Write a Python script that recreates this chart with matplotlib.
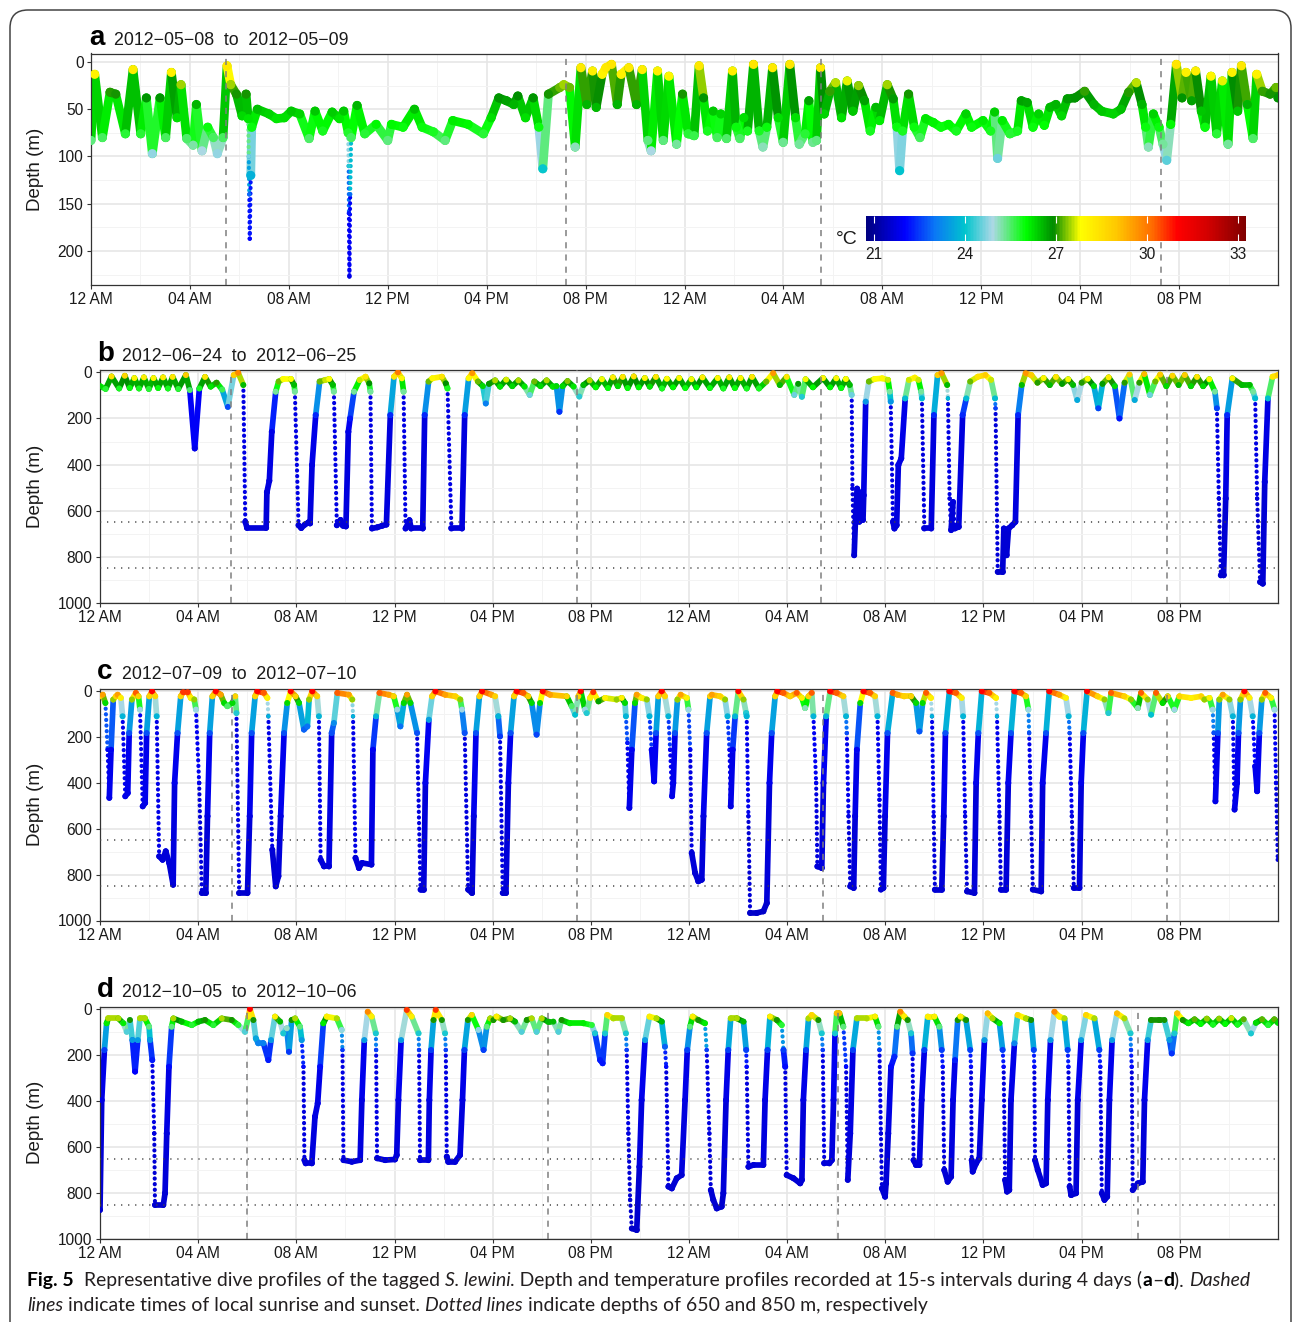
import numpy as np
import matplotlib
matplotlib.use("Agg")
import matplotlib.pyplot as plt
from matplotlib.collections import LineCollection
from matplotlib.colors import LinearSegmentedColormap, Normalize
from matplotlib.cm import ScalarMappable
from matplotlib.patches import FancyBboxPatch
from matplotlib.transforms import IdentityTransform

plt.rcParams['font.family'] = ['Liberation Sans', 'DejaVu Sans']

W, H = 1293, 1322

# ---- data: (hour since start, depth in m) ----
a_track = [
    (0.00, 83), (0.15, 13), (0.46, 80), (0.77, 32), (1.00, 34), (1.39, 76), (1.70, 8), (2.01, 76),
    (2.24, 38), (2.48, 97), (2.79, 38), (3.02, 80), (3.25, 11), (3.48, 59), (3.64, 24), (3.87, 81),
    (4.13, 88), (4.26, 45), (4.49, 94), (4.72, 69), (4.95, 80), (5.11, 97), (5.34, 80), (5.50, 4),
    (5.65, 24), (5.88, 34), (6.11, 57), (6.27, 34), (6.36, 60), (6.38, 100), (6.40, 140), (6.42, 187),
    (6.46, 120), (6.50, 69), (6.73, 50), (7.20, 55), (7.50, 60), (7.82, 59), (8.10, 52), (8.44, 55),
    (8.82, 81), (9.06, 52), (9.37, 73), (9.75, 53), (10.05, 60), (10.22, 52), (10.40, 75), (10.42, 110),
    (10.43, 160), (10.45, 227), (10.48, 140), (10.52, 80), (10.76, 46), (11.07, 76), (11.53, 66),
    (12.00, 83), (12.15, 66), (12.62, 69), (13.08, 50), (13.39, 69), (13.85, 74), (14.32, 83),
    (14.63, 62), (15.25, 66), (15.87, 76), (16.18, 59), (16.49, 38), (16.80, 41), (17.10, 45),
    (17.26, 36), (17.57, 59), (17.88, 38), (18.11, 69), (18.27, 113), (18.50, 34), (18.96, 27),
    (19.12, 24), (19.35, 27), (19.58, 90), (19.81, 6), (20.05, 45), (20.28, 9.5), (20.43, 48),
    (20.67, 13), (20.82, 6), (21.05, 2.5), (21.28, 45), (21.44, 13), (21.75, 6), (22.06, 45),
    (22.29, 8), (22.52, 83), (22.65, 94), (22.91, 9.5), (23.14, 83), (23.37, 15), (23.68, 87),
    (23.92, 34), (24.15, 76), (24.39, 78), (24.59, 4), (24.77, 38), (24.93, 73), (25.16, 52),
    (25.32, 80), (25.47, 55), (25.70, 81), (25.94, 9.5), (26.09, 69), (26.24, 81), (26.40, 59),
    (26.55, 73), (26.79, 2.5), (27.02, 73), (27.17, 90), (27.33, 69), (27.56, 6), (27.79, 59),
    (27.99, 85), (28.26, 2.5), (28.49, 59), (28.64, 87), (28.88, 76), (29.03, 41), (29.19, 85),
    (29.34, 83), (29.50, 6), (29.65, 55), (29.88, 31), (30.11, 22), (30.35, 59), (30.58, 20),
    (30.81, 52), (31.04, 25), (31.28, 41), (31.51, 73), (31.74, 48), (31.89, 62), (32.20, 24),
    (32.44, 39), (32.59, 69), (32.70, 115), (32.82, 73), (33.06, 34), (33.29, 69), (33.52, 80),
    (33.75, 60), (34.06, 64), (34.37, 69), (34.68, 66), (34.99, 73), (35.38, 55), (35.61, 69),
    (36.07, 62), (36.38, 73), (36.54, 53), (36.66, 102), (36.85, 62), (37.16, 76), (37.47, 73),
    (37.62, 41), (37.86, 43), (38.09, 69), (38.32, 55), (38.55, 67), (38.78, 48), (39.02, 45),
    (39.25, 57), (39.48, 39), (39.79, 38), (40.18, 31), (40.56, 45), (40.87, 52), (41.34, 55),
    (41.65, 50), (41.96, 32), (42.27, 22), (42.50, 45), (42.65, 69), (42.76, 90), (42.96, 55),
    (43.19, 69), (43.35, 87), (43.50, 104), (43.66, 66), (43.89, 2.5), (44.12, 38), (44.28, 11),
    (44.51, 41), (44.67, 9.5), (44.90, 52), (45.05, 69), (45.29, 15), (45.52, 76), (45.75, 20),
    (45.98, 87), (46.14, 11), (46.37, 52), (46.52, 4), (46.76, 45), (46.99, 81), (47.14, 13),
    (47.37, 31), (47.68, 34), (47.92, 27), (48.00, 38),
]

b_track = [
    (0.00, 60), (0.23, 72), (0.47, 18), (0.78, 70), (1.01, 15), (1.21, 68), (1.40, 25), (1.59, 70),
    (1.79, 22), (1.99, 72), (2.18, 25), (2.37, 68), (2.57, 22), (2.77, 70), (2.96, 20), (3.19, 72),
    (3.50, 12), (3.66, 77), (3.86, 330), (4.05, 70), (4.28, 20), (4.51, 62), (4.75, 45), (4.98, 75),
    (5.21, 150), (5.45, 12), (5.63, 2), (5.84, 55), (5.92, 648), (5.99, 674), (6.77, 674), (6.80, 520),
    (6.90, 470), (7.00, 258), (7.16, 84), (7.28, 40), (7.47, 29), (7.78, 29), (7.91, 55), (7.94, 84),
    (8.09, 663), (8.20, 675), (8.35, 660), (8.50, 650), (8.56, 655), (8.64, 402), (8.79, 185),
    (8.95, 40), (9.18, 33), (9.34, 29), (9.49, 55), (9.53, 84), (9.65, 663), (9.80, 640), (9.90, 665),
    (10.02, 668), (10.12, 258), (10.19, 200), (10.35, 84), (10.58, 33), (10.82, 19), (10.97, 48),
    (11.02, 84), (11.08, 677), (11.30, 672), (11.50, 665), (11.67, 660), (11.83, 185), (11.98, 19),
    (12.14, 0), (12.30, 26), (12.37, 84), (12.45, 677), (12.61, 641), (12.68, 677), (13.15, 677),
    (13.23, 185), (13.39, 40), (13.54, 26), (13.93, 19), (14.09, 48), (14.16, 70), (14.32, 677),
    (14.75, 677), (14.86, 185), (15.02, 26), (15.17, 4), (15.40, 40), (15.60, 60), (15.72, 135),
    (15.85, 50), (16.10, 35), (16.30, 62), (16.55, 32), (16.80, 60), (17.05, 35), (17.30, 62),
    (17.51, 98), (17.70, 40), (17.95, 60), (18.20, 35), (18.45, 62), (18.60, 60), (18.72, 171),
    (18.85, 60), (19.05, 38), (19.30, 62), (19.53, 105), (19.70, 55), (19.95, 35), (20.20, 65),
    (20.45, 30), (20.70, 68), (20.90, 22), (21.10, 60), (21.30, 20), (21.50, 68), (21.75, 18),
    (21.95, 65), (22.20, 25), (22.40, 62), (22.65, 20), (22.90, 70), (23.10, 28), (23.35, 65),
    (23.60, 25), (23.85, 68), (24.10, 30), (24.30, 65), (24.55, 22), (24.85, 68), (25.17, 25),
    (25.40, 70), (25.64, 22), (25.87, 68), (26.10, 25), (26.35, 70), (26.57, 20), (26.85, 70),
    (27.15, 40), (27.43, 4), (27.70, 55), (27.98, 20), (28.29, 98), (28.45, 50), (28.60, 106),
    (28.75, 30), (29.05, 65), (29.46, 25), (29.75, 65), (30.00, 26), (30.20, 68), (30.39, 29),
    (30.55, 55), (30.63, 98), (30.66, 504), (30.73, 793), (30.78, 648), (30.85, 504), (30.94, 648),
    (31.02, 520), (31.09, 640), (31.12, 533), (31.20, 127), (31.33, 40), (31.56, 29), (31.87, 26),
    (32.11, 33), (32.18, 84), (32.22, 127), (32.31, 648), (32.37, 677), (32.46, 663), (32.53, 402),
    (32.65, 373), (32.81, 113), (32.96, 33), (33.20, 23), (33.35, 33), (33.46, 84), (33.49, 113),
    (33.59, 677), (33.87, 677), (33.98, 185), (34.13, 12), (34.29, 4), (34.52, 55), (34.55, 113),
    (34.62, 547), (34.68, 684), (34.76, 562), (34.83, 677), (34.99, 670), (35.15, 185), (35.30, 113),
    (35.46, 40), (35.77, 19), (36.08, 12), (36.31, 33), (36.47, 113), (36.49, 156), (36.58, 865),
    (36.78, 865), (36.83, 677), (36.94, 793), (37.02, 677), (37.17, 663), (37.30, 648), (37.41, 185),
    (37.56, 55), (37.72, 4), (37.95, 12), (38.20, 45), (38.45, 25), (38.70, 55), (38.95, 20),
    (39.20, 50), (39.45, 30), (39.65, 55), (39.82, 120), (40.00, 45), (40.25, 28), (40.50, 60),
    (40.68, 156), (40.85, 50), (41.10, 22), (41.35, 60), (41.54, 200), (41.75, 45), (41.95, 10),
    (42.16, 120), (42.35, 45), (42.55, 8), (42.78, 98), (43.00, 40), (43.20, 10), (43.45, 60),
    (43.70, 15), (43.95, 55), (44.20, 12), (44.45, 60), (44.70, 20), (44.95, 60), (45.20, 30),
    (45.43, 84), (45.51, 156), (45.59, 547), (45.67, 880), (45.78, 880), (45.87, 547), (45.93, 185),
    (46.14, 26), (46.53, 55), (46.84, 55), (46.99, 84), (47.07, 113), (47.15, 547), (47.27, 909),
    (47.38, 916), (47.46, 475), (47.59, 113), (47.78, 19), (48.00, 12),
]

c_track = [
    (0.00, 22), (0.11, 15), (0.22, 51), (0.31, 255), (0.38, 465), (0.45, 255), (0.54, 36), (0.65, 22),
    (0.72, 15), (0.85, 29), (0.92, 109), (1.03, 458), (1.13, 444), (1.19, 182), (1.30, 36), (1.46, 7),
    (1.57, 22), (1.63, 80), (1.74, 502), (1.84, 487), (1.90, 182), (2.01, 22), (2.12, 0), (2.25, 22),
    (2.31, 109), (2.41, 720), (2.55, 735), (2.68, 698), (2.82, 749), (2.98, 844), (3.04, 400),
    (3.16, 182), (3.29, 22), (3.39, 4), (3.57, 4), (3.70, 29), (3.84, 36), (3.91, 80), (4.04, 400),
    (4.15, 880), (4.31, 880), (4.38, 545), (4.47, 182), (4.58, 22), (4.72, 0), (4.92, 15), (5.06, 51),
    (5.19, 65), (5.40, 51), (5.51, 22), (5.56, 95), (5.67, 880), (6.01, 880), (6.10, 545), (6.18, 182),
    (6.32, 22), (6.41, 0), (6.68, 7), (6.82, 29), (6.86, 109), (7.02, 691), (7.16, 851), (7.27, 807),
    (7.36, 545), (7.50, 182), (7.63, 51), (7.77, 0), (7.97, 22), (8.11, 51), (8.31, 167), (8.45, 153),
    (8.52, 36), (8.65, 0), (8.85, 22), (8.92, 109), (8.99, 735), (9.13, 764), (9.33, 764), (9.44, 182),
    (9.53, 138), (9.67, 7), (10.14, 15), (10.28, 36), (10.31, 109), (10.41, 727), (10.55, 771),
    (10.68, 749), (11.06, 756), (11.12, 255), (11.25, 109), (11.39, 7), (11.77, 15), (11.97, 22),
    (12.11, 80), (12.24, 153), (12.38, 51), (12.51, 15), (12.65, 51), (12.92, 182), (13.06, 865),
    (13.19, 865), (13.26, 400), (13.40, 124), (13.53, 22), (13.67, 0), (14.07, 15), (14.48, 22),
    (14.68, 36), (14.75, 80), (14.86, 182), (15.00, 865), (15.16, 880), (15.23, 545), (15.32, 182),
    (15.46, 22), (15.57, 0), (15.95, 15), (16.10, 22), (16.23, 109), (16.30, 197), (16.41, 880),
    (16.54, 880), (16.64, 400), (16.73, 182), (16.87, 22), (16.98, 0), (17.25, 7), (17.45, 22),
    (17.59, 51), (17.79, 189), (17.93, 51), (18.04, 0), (18.34, 15), (19.02, 22), (19.22, 65),
    (19.36, 102), (19.49, 22), (19.59, 0), (19.76, 80), (19.83, 95), (19.97, 29), (20.10, 4),
    (20.31, 44), (20.58, 29), (21.05, 36), (21.26, 29), (21.39, 51), (21.43, 109), (21.49, 225),
    (21.57, 509), (21.67, 255), (21.80, 51), (21.87, 15), (22.07, 29), (22.28, 36), (22.39, 109),
    (22.48, 255), (22.58, 393), (22.66, 182), (22.75, 22), (22.89, 0), (23.02, 22), (23.16, 109),
    (23.23, 255), (23.31, 458), (23.36, 400), (23.43, 182), (23.53, 36), (23.66, 15), (23.91, 29),
    (23.98, 80), (24.05, 255), (24.11, 705), (24.25, 793), (24.38, 829), (24.52, 822), (24.59, 545),
    (24.72, 182), (24.86, 22), (24.93, 15), (25.27, 22), (25.47, 36), (25.57, 109), (25.65, 255),
    (25.70, 502), (25.78, 255), (25.88, 109), (26.01, 0), (26.22, 36), (26.33, 95), (26.35, 109),
    (26.42, 545), (26.49, 967), (26.76, 967), (27.03, 960), (27.17, 924), (27.28, 400), (27.37, 182),
    (27.51, 22), (27.60, 0), (27.85, 7), (28.12, 22), (28.39, 7), (28.60, 29), (28.73, 73),
    (28.87, 22), (29.00, 7), (29.07, 109), (29.18, 400), (29.23, 764), (29.41, 771), (29.48, 400),
    (29.59, 109), (29.75, 0), (30.02, 7), (30.29, 22), (30.40, 109), (30.43, 182), (30.50, 545),
    (30.57, 851), (30.71, 858), (30.77, 545), (30.84, 255), (30.98, 51), (31.11, 0), (31.38, 7),
    (31.58, 22), (31.68, 109), (31.76, 473), (31.82, 865), (31.92, 858), (31.99, 545), (32.09, 182),
    (32.30, 7), (32.50, 15), (32.77, 22), (33.05, 22), (33.25, 51), (33.39, 175), (33.52, 51),
    (33.66, 7), (33.86, 29), (33.90, 109), (33.97, 545), (34.02, 865), (34.30, 865), (34.38, 545),
    (34.45, 182), (34.61, 0), (34.88, 7), (35.11, 29), (35.17, 109), (35.25, 545), (35.33, 873),
    (35.63, 880), (35.70, 400), (35.79, 182), (35.93, 0), (36.24, 7), (36.51, 29), (36.55, 109),
    (36.65, 545), (36.71, 865), (36.92, 865), (37.01, 400), (37.12, 182), (37.26, 0), (37.53, 7),
    (37.73, 22), (37.83, 80), (37.86, 182), (37.94, 545), (38.01, 865), (38.35, 873), (38.41, 400),
    (38.55, 182), (38.68, 0), (39.09, 15), (39.36, 29), (39.47, 109), (39.51, 182), (39.60, 545),
    (39.68, 858), (39.91, 858), (39.98, 400), (40.07, 182), (40.22, 0), (40.65, 22), (40.93, 36),
    (41.09, 95), (41.20, 7), (41.74, 22), (42.01, 36), (42.29, 73), (42.42, 7), (42.69, 36),
    (42.83, 102), (43.03, 7), (43.30, 51), (43.51, 22), (43.78, 80), (43.98, 22), (44.46, 29),
    (44.87, 22), (45.00, 36), (45.21, 29), (45.34, 80), (45.38, 182), (45.45, 480), (45.55, 182),
    (45.61, 36), (45.75, 15), (46.02, 36), (46.16, 109), (46.23, 516), (46.33, 400), (46.39, 182),
    (46.47, 36), (46.63, 0), (46.84, 29), (46.97, 109), (47.07, 327), (47.15, 436), (47.24, 182),
    (47.34, 36), (47.48, 7), (47.72, 29), (47.86, 80), (47.92, 400), (47.99, 735),
]

d_track = [
    (0.00, 874), (0.07, 396), (0.18, 178), (0.27, 62), (0.34, 41), (0.75, 41), (0.95, 62), (1.09, 99),
    (1.22, 48), (1.32, 135), (1.43, 272), (1.54, 135), (1.63, 41), (1.83, 41), (2.00, 77), (2.04, 135),
    (2.13, 222), (2.21, 541), (2.24, 852), (2.58, 852), (2.65, 801), (2.72, 541), (2.81, 251),
    (2.92, 77), (2.99, 41), (3.33, 55), (3.74, 70), (4.01, 55), (4.28, 48), (4.62, 70), (4.96, 41),
    (5.37, 48), (5.64, 70), (5.91, 99), (6.05, 33), (6.11, 0), (6.25, 48), (6.35, 128), (6.45, 149),
    (6.66, 149), (6.86, 222), (6.97, 135), (7.13, 33), (7.34, 55), (7.47, 106), (7.61, 84),
    (7.70, 186), (7.81, 48), (7.95, 41), (8.15, 77), (8.22, 135), (8.29, 251), (8.33, 657),
    (8.38, 671), (8.63, 671), (8.76, 468), (8.87, 410), (8.97, 251), (9.10, 62), (9.24, 33),
    (9.65, 41), (9.85, 91), (9.88, 178), (9.92, 657), (10.26, 664), (10.60, 657), (10.67, 396),
    (10.77, 135), (10.91, 12), (11.07, 33), (11.24, 106), (11.25, 178), (11.29, 649), (11.62, 657),
    (12.02, 654), (12.09, 635), (12.16, 396), (12.27, 135), (12.50, 4), (12.70, 33), (12.98, 106),
    (13.00, 178), (13.04, 657), (13.38, 657), (13.42, 396), (13.49, 178), (13.59, 48), (13.68, 4),
    (13.93, 48), (14.06, 106), (14.09, 178), (14.13, 642), (14.20, 664), (14.47, 664), (14.67, 635),
    (14.77, 396), (14.85, 178), (14.99, 48), (15.15, 26), (15.42, 91), (15.63, 178), (15.76, 77),
    (15.90, 41), (16.03, 48), (16.16, 33), (16.43, 48), (16.71, 41), (16.91, 55), (17.18, 99),
    (17.39, 48), (17.59, 41), (17.79, 99), (18.00, 41), (18.27, 55), (18.47, 55), (18.68, 99),
    (18.81, 48), (19.15, 62), (19.70, 62), (20.04, 70), (20.17, 106), (20.38, 222), (20.48, 236),
    (20.58, 106), (20.67, 26), (20.92, 41), (21.26, 41), (21.43, 106), (21.46, 178), (21.53, 541),
    (21.60, 830), (21.67, 954), (21.87, 961), (21.98, 686), (22.07, 396), (22.21, 135), (22.39, 33),
    (22.68, 41), (22.89, 55), (23.02, 164), (23.07, 251), (23.16, 772), (23.30, 780), (23.50, 736),
    (23.70, 722), (23.84, 396), (23.93, 178), (24.04, 77), (24.15, 33), (24.38, 48), (24.65, 62),
    (24.72, 178), (24.83, 541), (24.89, 787), (24.99, 830), (25.13, 867), (25.33, 859), (25.40, 801),
    (25.51, 396), (25.60, 178), (25.70, 41), (25.95, 41), (26.22, 55), (26.33, 178), (26.35, 251),
    (26.42, 686), (26.63, 678), (27.03, 678), (27.10, 396), (27.20, 178), (27.30, 33), (27.58, 48),
    (27.78, 70), (27.85, 178), (27.92, 251), (27.98, 722), (28.26, 736), (28.53, 758), (28.60, 743),
    (28.66, 396), (28.77, 178), (28.87, 41), (29.00, 26), (29.27, 48), (29.41, 106), (29.45, 178),
    (29.51, 671), (29.72, 671), (29.82, 657), (29.89, 396), (29.95, 106), (30.02, 19), (30.13, 19),
    (30.29, 77), (30.40, 251), (30.47, 743), (30.57, 541), (30.68, 178), (30.84, 41), (31.24, 41),
    (31.58, 33), (31.72, 77), (31.76, 178), (31.82, 541), (31.86, 780), (31.99, 816), (32.03, 758),
    (32.12, 541), (32.23, 251), (32.37, 207), (32.48, 77), (32.61, 12), (32.77, 33), (32.91, 48),
    (33.05, 106), (33.11, 193), (33.15, 657), (33.25, 678), (33.39, 678), (33.48, 396), (33.59, 178),
    (33.73, 33), (34.00, 33), (34.20, 77), (34.30, 178), (34.34, 251), (34.40, 700), (34.54, 751),
    (34.68, 729), (34.76, 396), (34.84, 222), (34.95, 48), (35.06, 33), (35.29, 48), (35.46, 178),
    (35.49, 251), (35.52, 657), (35.56, 707), (35.70, 671), (35.83, 649), (35.93, 396), (36.04, 135),
    (36.17, 19), (36.37, 41), (36.65, 62), (36.78, 178), (36.82, 251), (36.88, 743), (36.96, 794),
    (37.05, 787), (37.12, 396), (37.26, 149), (37.39, 26), (37.73, 41), (37.94, 48), (38.05, 178),
    (38.07, 251), (38.10, 657), (38.21, 700), (38.41, 765), (38.55, 758), (38.62, 396), (38.73, 135),
    (38.89, 12), (39.09, 33), (39.30, 41), (39.43, 178), (39.46, 251), (39.51, 772), (39.57, 809),
    (39.77, 801), (39.84, 396), (39.98, 135), (40.18, 26), (40.52, 41), (40.72, 178), (40.76, 251),
    (40.82, 801), (40.93, 830), (41.04, 816), (41.13, 396), (41.24, 135), (41.44, 19), (41.74, 41),
    (41.99, 106), (42.01, 178), (42.04, 251), (42.08, 787), (42.29, 758), (42.49, 751), (42.56, 396),
    (42.69, 135), (42.83, 48), (43.17, 48), (43.37, 48), (43.58, 135), (43.67, 193), (43.78, 106),
    (43.89, 19), (44.12, 48), (44.35, 62), (44.60, 45), (44.85, 65), (45.10, 42), (45.35, 68),
    (45.60, 42), (45.85, 65), (46.10, 40), (46.35, 68), (46.60, 45), (46.90, 106), (47.10, 60),
    (47.35, 45), (47.60, 70), (47.85, 45), (48.00, 60),
]

a_prof_depth = [0, 15, 30, 45, 60, 75, 90, 110, 130, 160, 230]
a_prof_temp = [28.4, 28.0, 27.1, 26.6, 26.2, 25.8, 25.1, 24.2, 23.3, 22.2, 21.7]
b_prof_depth = [0, 10, 25, 45, 60, 75, 90, 110, 150, 250, 1000]
b_prof_temp = [30.0, 29.0, 28.0, 27.0, 26.3, 25.6, 25.0, 24.0, 22.6, 21.8, 21.5]
c_prof_depth = [0, 10, 25, 40, 55, 75, 100, 150, 250, 1000]
c_prof_temp = [31.0, 30.0, 28.5, 27.0, 26.0, 25.0, 24.0, 23.0, 21.9, 21.5]
d_prof_depth = [0, 15, 35, 50, 65, 85, 110, 180, 300, 1000]
d_prof_temp = [31.0, 29.5, 28.0, 26.8, 26.0, 25.0, 24.0, 22.5, 21.8, 21.5]

# local sunrise / sunset (hours)
a_sun = [5.47, 19.19, 29.51, 43.28]
b_sun = [5.34, 19.43, 29.37, 43.46]
c_sun = [5.38, 19.43, 29.45, 43.46]
d_sun = [5.99, 18.25, 30.06, 42.28]
ref_depths = [650, 850]

titles = ["2012\u221205\u221208  to  2012\u221205\u221209", "2012\u221206\u221224  to  2012\u221206\u221225",
          "2012\u221207\u221209  to  2012\u221207\u221210", "2012\u221210\u221205  to  2012\u221210\u221206"]
hour_labels = ["12 AM", "04 AM", "08 AM", "12 PM", "04 PM", "08 PM"] * 2
cbar_ticks = [21, 24, 27, 30, 33]

# colour scale
cmap_temp = [20.74, 22.0, 23.0, 24.0, 24.9, 26.0, 26.9, 27.8, 29.0, 30.2, 31.0, 32.0, 33.26]
cmap_cols = ['#00007F', '#0000FF', '#0A78F5', '#00C5CD', '#ADD8E6', '#00FF00', '#008B00',
             '#FFFF00', '#FFC800', '#FF6A00', '#FF0000', '#D40000', '#7F0000']
vmin, vmax = cmap_temp[0], cmap_temp[-1]
cmap = LinearSegmentedColormap.from_list(
    'temp', [((t - vmin) / (vmax - vmin), c) for t, c in zip(cmap_temp, cmap_cols)])
norm = Normalize(vmin, vmax)

fig = plt.figure(figsize=(W / 100, H / 100), dpi=100)
TXT = '#1a1a1a'
DOT_LW = 3.0


def px_axes(left, top, right, bottom):
    return fig.add_axes([left / W, 1 - bottom / H, (right - left) / W, (bottom - top) / H])


def draw_track(ax, track, prof_d, prof_t, lw, dotted_up):
    arr = np.array(track, dtype=float)
    t, d = arr[:, 0], arr[:, 1]
    segs = np.stack([arr[:-1], arr[1:]], axis=1)
    lo = np.minimum(d[:-1], d[1:])
    hi = np.maximum(d[:-1], d[1:])
    # colour each piece by the water it mostly passes through (biased to the deeper end)
    seg_temp = np.interp(lo + 0.62 * (hi - lo), prof_d, prof_t)
    dd = np.diff(d)
    rate = dd / np.maximum(np.diff(t), 1e-3)
    fast = (np.abs(dd) > 30) & (np.abs(rate) > 1500)
    if not dotted_up:
        fast &= dd > 0
    ax.add_collection(LineCollection(segs[~fast], colors=cmap(norm(seg_temp[~fast])), linewidths=lw,
                                     capstyle='round', joinstyle='round', zorder=2))
    ax.add_collection(LineCollection(segs[fast], colors=cmap(norm(seg_temp[fast])), linewidths=DOT_LW,
                                     linestyles=[(0, (0.05, 1.3))], capstyle='round', zorder=2))
    # points sitting only on dotted (fast) pieces get the small dot size
    before = np.r_[True, fast]
    after = np.r_[fast, True]
    size = np.where(before & after, DOT_LW, lw) ** 2 * 1.1
    ax.scatter(t, d, s=size, c=np.interp(d, prof_d, prof_t), cmap=cmap, norm=norm,
               linewidths=0, zorder=3)


panels = [
    dict(track=a_track, pd=a_prof_depth, pt=a_prof_temp, sun=a_sun, box=(91, 53.5, 1278, 285),
         ylim=(236, -9), yt=[0, 50, 100, 150, 200], ym=[25, 75, 125, 175, 225], lw=6.3, up=True,
         refs=[], letter='a', lx=89, base=45),
    dict(track=b_track, pd=b_prof_depth, pt=b_prof_temp, sun=b_sun, box=(100, 370, 1278, 603),
         ylim=(1000, -10), yt=list(range(0, 1001, 200)), ym=list(range(100, 1000, 200)), lw=4.1,
         up=False, refs=ref_depths, letter='b', lx=97, base=361),
    dict(track=c_track, pd=c_prof_depth, pt=c_prof_temp, sun=c_sun, box=(100, 689, 1278, 920.5),
         ylim=(1000, -10), yt=list(range(0, 1001, 200)), ym=list(range(100, 1000, 200)), lw=4.1,
         up=False, refs=ref_depths, letter='c', lx=97, base=679),
    dict(track=d_track, pd=d_prof_depth, pt=d_prof_temp, sun=d_sun, box=(100, 1006.7, 1278, 1239),
         ylim=(1000, -10), yt=list(range(0, 1001, 200)), ym=list(range(100, 1000, 200)), lw=4.1,
         up=False, refs=ref_depths, letter='d', lx=97, base=997),
]

for p, title in zip(panels, titles):
    left, top, right, bottom = p['box']
    ax = px_axes(left, top, right, bottom)
    draw_track(ax, p['track'], p['pd'], p['pt'], p['lw'], p['up'])
    for s in p['sun']:
        ax.axvline(s, color='#7F7F7F', lw=1.1, ls=(0, (4, 4)), zorder=4)
    for r in p['refs']:
        ax.axhline(r, color='#444444', lw=1.1, ls=(0, (0.8, 3.8)), zorder=4)
    ax.set_xlim(0, 48)
    ax.set_ylim(*p['ylim'])
    ax.set_xticks(range(0, 48, 4))
    ax.set_xticklabels(hour_labels)
    ax.set_xticks(range(2, 48, 4), minor=True)
    ax.set_yticks(p['yt'])
    ax.set_yticks(p['ym'], minor=True)
    ax.grid(which='major', color='#E6E6E6', lw=1.2)
    ax.grid(which='minor', color='#F3F3F3', lw=0.7)
    ax.set_axisbelow(True)
    ax.tick_params(which='major', length=3.2, width=0.8, color='#333333', labelsize=11.2,
                   labelcolor=TXT, pad=2.2)
    ax.tick_params(which='minor', length=0)
    for sp in ax.spines.values():
        sp.set_color('#333333')
        sp.set_linewidth(0.9)
    fig.text(35 / W, 1 - (top + bottom) / 2 / H, 'Depth (m)', rotation=90, ha='center', va='center',
             fontsize=13.5, color=TXT)
    fig.text(p['lx'] / W, 1 - p['base'] / H, p['letter'], fontsize=20, fontweight='bold',
             va='baseline', ha='left', color='black')
    fig.text((p['lx'] + 25) / W, 1 - p['base'] / H, title, fontsize=12.75, va='baseline',
             ha='left', color=TXT)

# colour bar inside panel a
cax = px_axes(866, 216, 1246, 241)
cb = fig.colorbar(ScalarMappable(norm=norm, cmap=cmap), cax=cax, orientation='horizontal',
                  ticks=cbar_ticks)
cb.outline.set_visible(False)
cax.tick_params(axis='x', direction='in', length=5, width=0.8, color='white', top=True,
                labelsize=11.2, labelcolor=TXT, pad=4)
fig.text(836 / W, 1 - 239 / H, '\u00b0C', fontsize=14, ha='left', va='center', color=TXT)

# caption
renderer = fig.canvas.get_renderer()
cap_family = ['Lato', 'DejaVu Sans']


def run_width(s, size, weight, style):
    def w(txt):
        t = fig.text(0, 0, txt, fontsize=size, fontweight=weight, fontstyle=style, family=cap_family)
        e = t.get_window_extent(renderer).width
        t.remove()
        return e
    return w('|' + s + '|') - w('||')


line1 = [("Fig. 5", 'bold', 'normal'), ("  Representative dive profiles of the tagged ", 'normal', 'normal'),
         ("S. lewini", 'normal', 'italic'),
         (". Depth and temperature profiles recorded at 15-s intervals during 4 days (", 'normal', 'normal'),
         ("a", 'bold', 'normal'), ("\u2013", 'normal', 'normal'), ("d", 'bold', 'normal'),
         ("). ", 'normal', 'normal'), ("Dashed", 'normal', 'italic')]
line2 = [("lines", 'normal', 'italic'), (" indicate times of local sunrise and sunset. ", 'normal', 'normal'),
         ("Dotted lines", 'normal', 'italic'),
         (" indicate depths of 650 and 850 m, respectively", 'normal', 'normal')]

w10 = sum(run_width(s, 10, wt, st) for s, wt, st in line1)
cap_size = 10 * 1223 / w10

for runs, base in [(line1, 1286), (line2, 1311)]:
    x = 27
    for s, wt, st in runs:
        col = 'black' if wt == 'bold' else '#231F20'
        fig.text(x / W, 1 - base / H, s, fontsize=cap_size, fontweight=wt, fontstyle=st,
                 family=cap_family, va='baseline', ha='left', color=col)
        x += run_width(s, cap_size, wt, st)

# rounded outer frame of the figure box
frame = FancyBboxPatch((10, -40), 1281, H - 10 + 40, boxstyle='round,pad=0,rounding_size=18',
                       transform=IdentityTransform(), fill=False, ec='#444444', lw=1.1)
fig.add_artist(frame)

fig.savefig('out.png', dpi=100)
